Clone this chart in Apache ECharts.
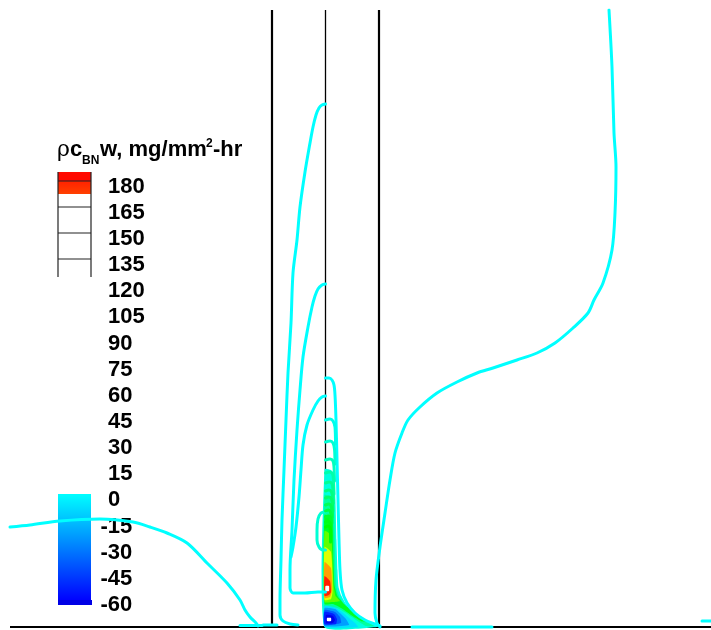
<!DOCTYPE html>
<html>
<head>
<meta charset="utf-8">
<script src="https://cdn.jsdelivr.net/npm/echarts@6/dist/echarts.min.js"></script>
<style>
  html, body { margin: 0; padding: 0; background: #fff; }
  #chart { width: 711px; height: 630px; }
</style>
</head>
<body>
<div id="chart"></div>
<script>
// ---- Geometry of the domain (mm) ----
const wallX = [26.2, 31.55, 36.9];
const domainTop = 61.7;
const domainRight = 70.1;

// ---- Legend levels (rho*c_BN*w, mg/mm^2-hr) ----
const legendLevels = [180, 165, 150, 135, 120, 105, 90, 75, 60, 45, 30, 15, 0, -15, -30, -45, -60];

// ---- Contour lines, [x mm, y mm] ----
const zeroLeft = [[0,10.0],[2.0,10.2],[5.0,10.6],[9.0,10.8],[12.3,10.5],[14.0,10.0],[15.7,9.4],[17.7,8.4],[19.7,6.4],[21.7,4.4],[23.0,2.7],[23.5,1.7],[24.0,1.0],[24.6,0.4],[24.8,0.1]];
const tallOuter = [[31.55,52.3],[31.2,52.2],[30.9,51.9],[30.6,51.2],[30.3,50.0],[30.0,48.4],[29.5,45.5],[29.0,42.0],[28.7,38.7],[28.3,35.4],[28.1,30.4],[27.8,25.4],[27.6,20.7],[27.4,15.7],[27.2,10.7],[27.1,6.7],[27.0,2.7],[27.0,1.2],[27.3,0.6],[28.0,0.3],[28.8,0.2]];
const tallMiddle = [[31.55,34.3],[31.2,34.2],[30.8,33.8],[30.5,33.1],[30.2,32.0],[29.8,30.0],[29.3,27.0],[29.0,23.7],[28.7,19.7],[28.4,14.7],[28.2,9.7],[28.0,5.7],[28.0,3.9],[28.3,3.4],[29.5,3.4],[30.8,3.5],[31.55,3.5]];
const tallInner = [[31.55,23.1],[31.2,23.0],[30.8,22.6],[30.3,21.7],[29.7,20.2],[29.3,18.2],[29.1,15.7],[28.9,13.0],[28.6,10.0],[28.3,8.0],[28.1,7.0]];
const wallHugger = [[31.55,24.9],[31.9,24.9],[32.2,24.7],[32.4,24.2],[32.5,23.2],[32.6,20.7],[32.7,16.7],[32.8,12.7],[32.9,8.7],[33.0,5.7],[33.2,3.7],[33.7,2.4],[34.5,1.4],[35.5,0.7],[36.5,0.3],[37.0,0.1]];
const farRight = [[59.9,61.7],[60.2,56.0],[60.4,49.4],[60.6,46.0],[60.5,41.4],[60.2,37.7],[59.3,34.4],[58.4,32.7],[57.8,31.4],[56.3,29.9],[54.5,28.4],[52.7,27.4],[50.7,26.7],[48.3,25.9],[46.7,25.4],[44.7,24.5],[42.7,23.4],[41.0,22.0],[39.8,20.7],[39.2,19.4],[38.5,17.4],[38.0,14.7],[37.5,11.4],[37.0,8.0],[36.6,4.7],[36.5,1.4],[36.7,0.4],[37.0,0.0]];
const sideLoop = [[31.5,11.5],[31.1,11.4],[30.8,10.8],[30.7,9.7],[30.7,8.7],[30.9,8.0],[31.3,7.7],[31.55,7.7]];
const floorBitA = [[23.0,0.15],[25.2,0.15]];
const floorBitB = [[25.3,0.2],[26.7,0.2]];
const floorBitC = [[40.2,0.0],[48.2,0.0]];
const floorBitD = [[69.2,0.6],[70.1,0.6]];

// Stacked contour hooks beside the middle wall
const hook5  = [[31.55,20.7],[32.0,20.8],[32.3,20.6],[32.5,20.0],[32.55,18.3]];
const hook10 = [[31.55,18.5],[32.0,18.6],[32.3,18.4],[32.45,17.8],[32.5,16.3]];
const hook15 = [[31.55,16.7],[32.0,16.8],[32.3,16.6],[32.4,16.0],[32.45,14.6]];
const hook20 = [[31.55,15.4],[31.95,15.5],[32.25,15.3],[32.35,14.7],[32.4,13.3]];
const hook25 = [[31.55,14.4],[31.95,14.5],[32.2,14.3],[32.3,13.7],[32.35,12.4]];
const hook30 = [[31.55,13.6],[31.9,13.7],[32.15,13.5],[32.25,12.9],[32.3,11.6]];
const hook35 = [[31.55,12.9],[31.9,13.0],[32.15,12.8],[32.25,12.2],[32.25,11.0]];
const hook40 = [[31.55,12.2],[31.9,12.3],[32.1,12.1],[32.2,11.5],[32.2,10.4]];
const hook45 = [[31.55,11.6],[31.85,11.7],[32.05,11.5],[32.15,10.9],[32.15,9.8]];
const hook50 = [[31.55,11.0],[31.85,11.1],[32.05,10.9],[32.1,10.3],[32.1,9.3]];
const hook55 = [[31.55,10.5],[31.8,10.6],[32.0,10.4],[32.05,9.9],[32.05,8.9]];
const hook60 = [[31.55,10.0],[31.8,10.1],[32.0,9.9],[32.05,9.4],[32.05,8.5]];

const contourLines = [zeroLeft, tallOuter, tallMiddle, tallInner, wallHugger, farRight, sideLoop,
  floorBitA, floorBitB, floorBitC, floorBitD,
  hook5, hook10, hook15, hook20, hook25, hook30, hook35, hook40, hook45, hook50, hook55, hook60];
const contourLevels = [0, 0, 0, 0, 0, 0, 10,
  0, 0, 0, 0,
  5, 10, 15, 20, 25, 30, 35, 40, 45, 50, 55, 60];

// ---- Flood regions (each polygon holds values above its level) ----
const flood0   = [[31.45,15.8],[32.1,15.7],[32.4,15.3],[32.55,12.7],[32.65,8.7],[32.75,5.7],[32.85,4.0],[33.1,3.2],[33.6,2.3],[34.3,1.5],[35.2,0.8],[36.1,0.35],[36.7,0.1],[36.8,0],[31.45,0]];
const flood15  = [[31.45,13.2],[32.1,13.0],[32.35,12.5],[32.45,10.7],[32.55,5.7],[32.65,3.9],[32.95,3.0],[33.5,2.2],[34.3,1.5],[35.2,0.8],[36.1,0.3],[36.4,0.1],[35.6,0.1],[34.6,0.7],[33.6,1.4],[32.7,1.9],[31.45,2.0]];
const flood45  = [[31.45,11.2],[32.1,10.9],[32.3,10.2],[32.35,6.7],[32.45,4.2],[32.75,3.1],[33.4,2.3],[34.2,1.6],[35.0,1.0],[35.7,0.5],[35.1,0.6],[34.1,1.2],[33.1,1.9],[32.3,2.3],[31.45,2.3]];
const flood75  = [[31.45,9.6],[32.1,9.2],[32.25,6.7],[32.35,4.2],[32.55,3.1],[33.0,2.6],[32.3,2.5],[31.45,2.5]];
const flood105 = [[31.45,8.0],[32.1,7.5],[32.25,5.2],[32.25,3.5],[32.1,2.8],[31.45,2.7]];
const flood135 = [[31.45,6.5],[32.1,5.9],[32.2,3.7],[32.0,3.0],[31.45,2.9]];
const flood165 = [[31.45,5.1],[32.0,4.6],[32.1,3.5],[31.9,3.2],[31.45,3.1]];
const flood180 = [[31.55,4.1],[31.9,4.1],[31.9,3.6],[31.55,3.6]];
const floodM0  = [[31.45,2.1],[32.4,2.0],[33.2,1.5],[33.9,0.9],[34.5,0.4],[34.8,0],[31.45,0]];
const floodM15 = [[31.45,1.9],[32.5,1.8],[33.1,1.3],[33.6,0.8],[33.9,0.2],[31.45,0.1]];
const floodM30 = [[31.45,1.7],[32.5,1.5],[33.0,1.0],[33.1,0.4],[31.45,0.2]];
const floodM45 = [[31.45,1.5],[32.4,1.3],[32.7,0.8],[32.6,0.3],[31.45,0.3]];
const floodM60 = [[31.6,1.2],[32.3,1.1],[32.5,0.7],[32.3,0.4],[31.6,0.4]];
const floodM75 = [[31.7,0.9],[32.1,0.9],[32.1,0.6],[31.7,0.6]];

const floodShapes = [flood0, flood15, flood45, flood75, flood105, flood135, flood165, flood180,
  floodM0, floodM15, floodM30, floodM45, floodM60, floodM75];
const floodValues = [7.5, 22.5, 52.5, 82.5, 112.5, 142.5, 172.5, 999,
  -7.5, -22.5, -37.5, -52.5, -65, -999];

// Blue-cyan-green-yellow-red map over the legend range
const colorStops = [[-75, [0, 0, 190]], [-60, [0, 0, 255]], [0, [0, 255, 255]], [60, [0, 255, 0]], [120, [255, 255, 0]], [180, [255, 0, 0]]];
function levelColor(v) {
  if (v > 180 || v < -80) return '#ffffff';
  if (v <= colorStops[0][0]) return 'rgb(' + colorStops[0][1].join(',') + ')';
  for (let i = 1; i < colorStops.length; i++) {
    const [v1, c1] = colorStops[i];
    const [v0, c0] = colorStops[i - 1];
    if (v <= v1) {
      const t = (v - v0) / (v1 - v0);
      const c = c0.map((a, k) => Math.round(a + (c1[k] - a) * t));
      return 'rgb(' + c.join(',') + ')';
    }
  }
  return 'rgb(255,0,0)';
}

const series = [];

// Walls
wallX.forEach((x, i) => {
  series.push({
    type: 'line', data: [[x, 0], [x, domainTop]], symbol: 'none', silent: true,
    lineStyle: { color: '#000', width: i === 1 ? 1.3 : 2.2 }, z: 1
  });
});
// Floor
series.push({
  type: 'line', data: [[0, 0], [domainRight, 0]], symbol: 'none', silent: true,
  lineStyle: { color: '#000', width: 2 }, z: 1
});

// Flood
series.push({
  type: 'custom', coordinateSystem: 'cartesian2d', silent: true, z: 2,
  data: floodShapes.map((s, i) => [s[0][0], s[0][1], floodValues[i]]),
  renderItem: function (params, api) {
    const pts = floodShapes[params.dataIndex].map(p => api.coord(p));
    return {
      type: 'polygon', shape: { points: pts, smooth: 0.15 },
      style: { fill: levelColor(floodValues[params.dataIndex]), stroke: null }
    };
  }
});

// Contour lines
contourLines.forEach((d, i) => {
  series.push({
    type: 'line', data: d, symbol: 'none', silent: true, smooth: 0.3, z: 3,
    lineStyle: { color: levelColor(contourLevels[i]), width: 3, cap: 'round', join: 'round' }
  });
});

// ---- Legend (drawn as graphics) ----
const LX = 58, LW = 33;
const labelTop = 186.5, labelStep = 26.16;
const graphics = [];
graphics.push({ type: 'rect', shape: { x: LX, y: 172, width: LW, height: 9 }, style: { fill: levelColor(178) } });
graphics.push({ type: 'rect', shape: { x: LX, y: 181, width: LW, height: 13 },
  style: { fill: new echarts.graphic.LinearGradient(0, 0, 0, 1, [{ offset: 0, color: levelColor(172) }, { offset: 1, color: levelColor(165) }]) } });
[181, 207, 233, 259].forEach(y => {
  graphics.push({ type: 'line', shape: { x1: LX, y1: y, x2: LX + LW, y2: y }, style: { stroke: '#222', lineWidth: 1.2 } });
});
[LX, LX + LW].forEach(x => {
  graphics.push({ type: 'line', shape: { x1: x, y1: 172, x2: x, y2: 277 }, style: { stroke: '#222', lineWidth: 1.2 } });
});
graphics.push({ type: 'rect', shape: { x: LX, y: 494, width: LW, height: 107 },
  style: { fill: new echarts.graphic.LinearGradient(0, 0, 0, 1, [{ offset: 0, color: levelColor(0) }, { offset: 1, color: levelColor(-60) }]) } });
graphics.push({ type: 'rect', shape: { x: LX, y: 600, width: LW + 1, height: 5 }, style: { fill: levelColor(-66) } });

legendLevels.forEach((v, i) => {
  graphics.push({
    type: 'text', x: v < 0 ? 100.5 : 108, y: labelTop + i * labelStep,
    style: { text: String(v), font: 'bold 22px "Liberation Sans", Arial, sans-serif', fill: '#000', verticalAlign: 'middle', align: 'left' }
  });
});

// Legend title: rho c_BN w, mg/mm^2-hr
const tf = '"Liberation Sans", Arial, sans-serif';
graphics.push({ type: 'text', x: 57, y: 150, style: { text: 'ρ', font: '22px "DejaVu Serif", serif', fill: '#000', verticalAlign: 'middle' } });
graphics.push({ type: 'text', x: 70, y: 150, style: { text: 'c', font: 'bold 22px ' + tf, fill: '#000', verticalAlign: 'middle' } });
graphics.push({ type: 'text', x: 82, y: 161, style: { text: 'BN', font: 'bold 12px ' + tf, fill: '#000', verticalAlign: 'middle' } });
graphics.push({ type: 'text', x: 100, y: 150, style: { text: 'w, mg/mm', font: 'bold 22px ' + tf, fill: '#000', verticalAlign: 'middle' } });
graphics.push({ type: 'text', x: 206, y: 144, style: { text: '2', font: 'bold 12px ' + tf, fill: '#000', verticalAlign: 'middle' } });
graphics.push({ type: 'text', x: 213, y: 150, style: { text: '-hr', font: 'bold 22px ' + tf, fill: '#000', verticalAlign: 'middle' } });

const chart = echarts.init(document.getElementById('chart'), null, { renderer: 'canvas' });
chart.setOption({
  animation: false,
  backgroundColor: '#fff',
  grid: { left: 10, right: 0, top: 10, bottom: 0 },
  xAxis: { type: 'value', min: 0, max: domainRight, show: false },
  yAxis: { type: 'value', min: -0.3, max: domainTop, show: false },
  series: series,
  graphic: graphics
});
</script>
</body>
</html>
